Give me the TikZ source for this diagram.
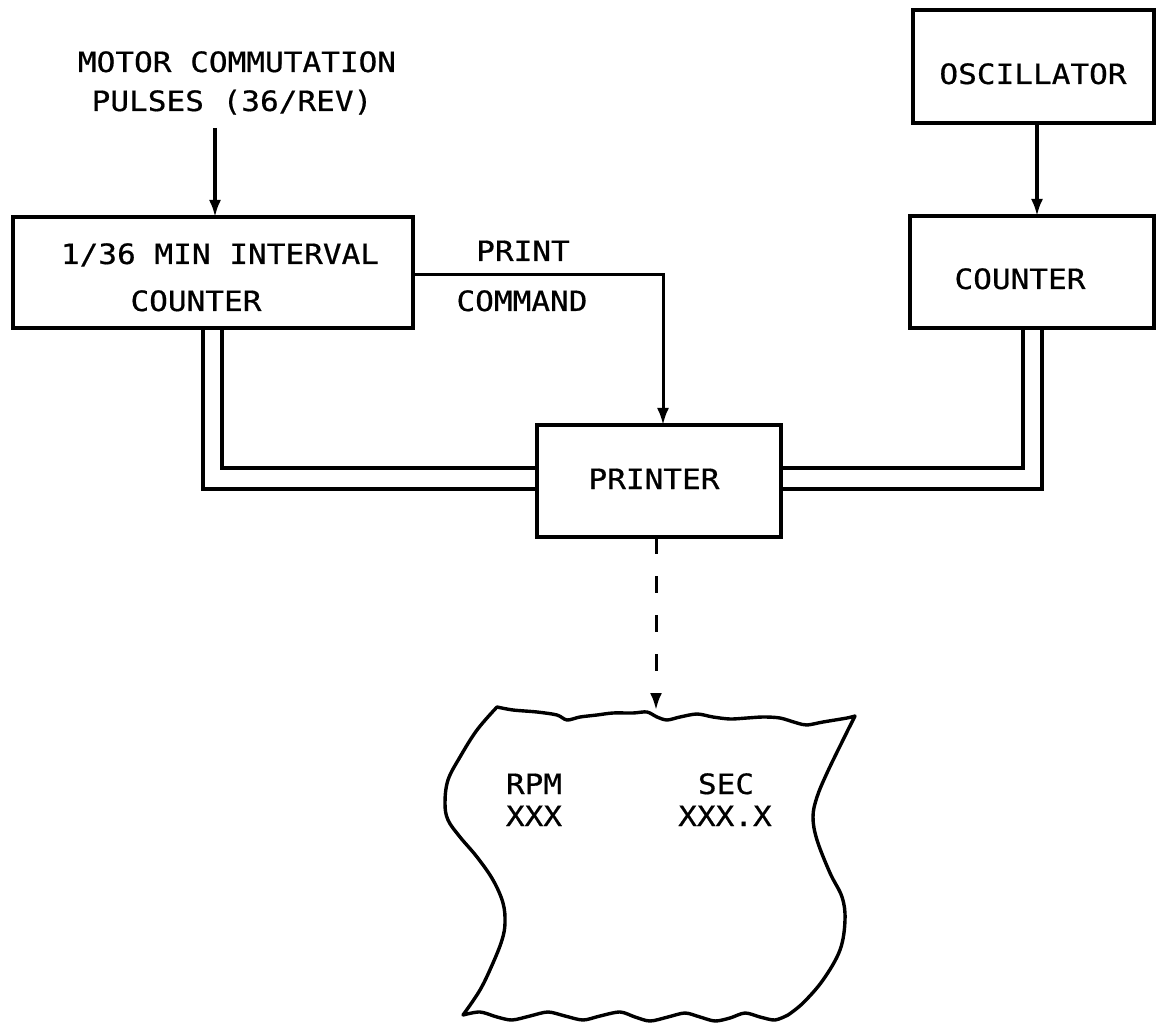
\documentclass[tikz,border=0pt]{standalone}
\usepackage{fontspec}
\newfontfamily\tw[FakeStretch=1.11,FakeBold=0.6]{DejaVu Sans Mono}
\usetikzlibrary{arrows.meta}
\begin{document}
\begin{tikzpicture}[x=1pt,y=-1pt,
  blk/.style={draw, line width=3.2pt, outer sep=0pt, inner sep=0pt},
  lbl/.style={font=\tw\fontsize{28}{32}\selectfont, inner sep=0pt, anchor=base},
  conn/.style={line width=3.2pt, -{Latex[length=17pt,width=12pt]}},
  thinconn/.style={line width=3.0pt, -{Latex[length=17pt,width=12pt]}},
  dashconn/.style={line width=3.0pt, dash pattern=on 17pt off 22pt, -{Latex[length=17pt,width=12pt]}},
  bus/.style={line width=3.2pt, line join=miter},
  paper/.style={line width=3.4pt, line join=round}]
\useasboundingbox (0,0) rectangle (1160,1024);

% boxes
\node[blk, minimum width=400pt, minimum height=111pt] (intbox) at (213,272.5) {};
\node[blk, minimum width=241pt, minimum height=113pt] (osc) at (1033.5,66.5) {};
\node[blk, minimum width=244pt, minimum height=112pt] (cnt) at (1032,272) {};
\node[blk, minimum width=244pt, minimum height=112pt] (prn) at (659,481) {};

% texts
\node[lbl] (t1) at (237,72) {MOTOR COMMUTATION};
\node[lbl] (t2) at (232,111) {PULSES (36/REV)};
\node[lbl] (t3) at (220,264) {1/36 MIN INTERVAL};
\node[lbl] (t4) at (196,311) {COUNTER};
\node[lbl] (t5) at (523,261) {PRINT};
\node[lbl] (t6) at (522,311) {COMMAND};
\node[lbl] (t7) at (1033,84) {OSCILLATOR};
\node[lbl] (t8) at (1020,289) {COUNTER};
\node[lbl] (t9) at (654,489) {PRINTER};
\node[lbl] (t10) at (534,794) {RPM};
\node[lbl] (t11) at (534,826) {XXX};
\node[lbl] (t12) at (726,794) {SEC};
\node[lbl] (t13) at (725,826) {XXX.X};

% connectors
\coordinate (min) at (215,128);
\draw[conn] (min) -- (intbox.north -| min);
\coordinate (pc) at (663,275);
\draw[thinconn] (intbox.east |- pc) -| (prn.north -| pc);
\coordinate (oc) at (1037,0);
\draw[conn] (osc.south -| oc) -- (cnt.north -| oc);

% double lines
\coordinate (lo) at (203,489);
\coordinate (li) at (222,468);
\draw[bus] (intbox.south -| lo) |- (prn.west |- lo);
\draw[bus] (intbox.south -| li) |- (prn.west |- li);
\coordinate (ri) at (1023,468);
\coordinate (ro) at (1042,489);
\draw[bus] (cnt.south -| ri) |- (prn.east |- ri);
\draw[bus] (cnt.south -| ro) |- (prn.east |- ro);

% paper
\draw[paper]
  plot[smooth, tension=0.5] coordinates {(497,707) (513,710) (537,712) (557,715) (567,720) (580,717) (597,715) (613,713) (633,713) (647,712) (657,717) (667,720) (680,717) (697,714) (713,717) (730,719) (747,718) (763,717) (780,718) (797,723) (807,725) (823,722) (847,718) (855,716)}
  -- plot[smooth, tension=0.6] coordinates {(855,716) (843,740) (827,773) (817,797) (813,817) (817,840) (830,873) (842,897) (845,920) (840,950) (823,980) (803,1003) (788,1015)}
  -- plot[smooth, tension=0.5] coordinates {(788,1015) (775,1020) (760,1017) (745,1013) (730,1018) (715,1021) (700,1017) (685,1013) (668,1017) (650,1021) (635,1017) (620,1012) (600,1016) (583,1020) (565,1016) (548,1012) (530,1016) (512,1020) (497,1017) (480,1012) (463,1015)}
  -- plot[smooth, tension=0.6] coordinates {(463,1015) (480,990) (493,963) (502,940) (505,923) (503,903) (493,880) (477,857) (460,837) (448,820) (445,803) (448,780) (460,757) (477,730) (497,707)}
  -- cycle;

% dashed output
\coordinate (ptop) at (656,710);
\draw[dashconn] (prn.south -| ptop) -- (ptop);
\end{tikzpicture}
\end{document}
